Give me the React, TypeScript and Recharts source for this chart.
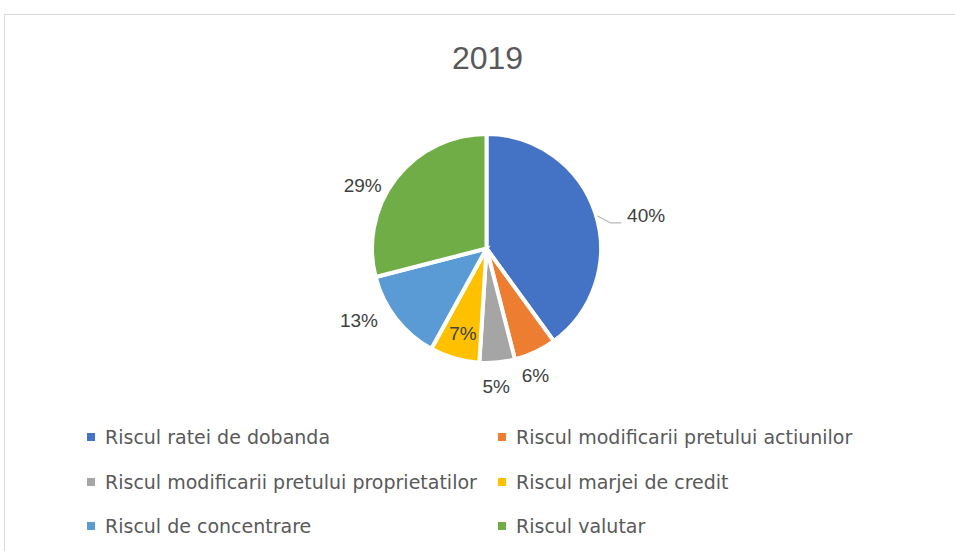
import React from 'react';
import { PieChart, Pie, Cell, Legend } from 'recharts';

const TITLE = '2019';
const CATEGORIES = [
  'Riscul ratei de dobanda',
  'Riscul modificarii pretului actiunilor',
  'Riscul modificarii pretului proprietatilor',
  'Riscul marjei de credit',
  'Riscul de concentrare',
  'Riscul valutar',
];
const VALUES = [40, 6, 5, 7, 13, 29];
const COLORS = ['#4472C4', '#ED7D31', '#A5A5A5', '#FFC000', '#5B9BD5', '#70AD47'];

// label placement style (radius from centre, angle shift in degrees)
const LABEL_RADIUS = [163, 136, 138, 88, 146, 139];
const LABEL_ANGLE_SHIFT = [-6.3, -4.1, -1.4, 0.7, -8.7, 10.8];

const data = CATEGORIES.map((name, i) => ({ name, value: VALUES[i] }));

const RAD = Math.PI / 180;

const renderLabel = (p: any) => {
  const { cx, cy, midAngle, outerRadius, index, percent } = p;
  const a = (midAngle + LABEL_ANGLE_SHIFT[index]) * RAD;
  const r = LABEL_RADIUS[index];
  const x = cx + r * Math.cos(a);
  const y = cy - r * Math.sin(a);
  let line = null;
  if (index === 0) {
    const sa = (midAngle - 1.6) * RAD;
    const sx = cx + (outerRadius + 1) * Math.cos(sa);
    const sy = cy - (outerRadius + 1) * Math.sin(sa);
    const ex = sx + 13;
    const ey = sy + 7;
    line = (
      <polyline
        points={`${sx},${sy} ${ex},${ey} ${ex + 11},${ey}`}
        fill="none"
        stroke="#A6A6A6"
        strokeWidth={1}
      />
    );
  }
  return (
    <g key={`lbl-${index}`}>
      {line}
      <text
        x={x}
        y={y + 7}
        textAnchor="middle"
        fill="#404040"
        fontFamily="'Liberation Sans', Arial, sans-serif"
        fontSize={19}
      >
        {`${Math.round(percent * 100)}%`}
      </text>
    </g>
  );
};

const LEG_MARKER_X = [87, 498];
const LEG_ROW_TOP = [426.4, 470.9, 515.4];

const renderLegend = () => {
  return (
    <div style={{ position: 'relative', width: 0, height: 0 }}>
      {CATEGORIES.map((name, i) => {
        const col = i % 2;
        const row = Math.floor(i / 2);
        return (
          <div
            key={name}
            style={{
              position: 'absolute',
              left: LEG_MARKER_X[col],
              top: LEG_ROW_TOP[row],
              height: 22,
              display: 'flex',
              alignItems: 'center',
              whiteSpace: 'nowrap',
            }}
          >
            <span
              style={{
                display: 'inline-block',
                width: 8,
                height: 8,
                background: COLORS[i],
                marginRight: 10,
              }}
            />
            <span
              style={{
                fontFamily: "'DejaVu Sans', sans-serif",
                fontSize: 19,
                lineHeight: '22px',
                color: '#595959',
              }}
            >
              {name}
            </span>
          </div>
        );
      })}
    </div>
  );
};

export default function App() {
  return (
    <div
      style={{
        position: 'absolute',
        left: 0,
        top: 0,
        width: 955,
        height: 551,
        overflow: 'hidden',
        background: '#fff',
      }}
    >
      <div
        style={{
          position: 'absolute',
          left: 4,
          top: 14,
          width: 1000,
          height: 600,
          border: '1px solid #D9D9D9',
          boxSizing: 'border-box',
        }}
      />
      <div
        style={{
          position: 'absolute',
          left: 0,
          top: 42.2,
          width: 975,
          textAlign: 'center',
          fontFamily: "'Liberation Sans', Arial, sans-serif",
          fontSize: 32,
          lineHeight: '32px',
          color: '#595959',
        }}
      >
        {TITLE}
      </div>
      <div style={{ position: 'absolute', left: 0, top: 0 }}>
        <PieChart width={955} height={551} margin={{ top: 0, right: 0, bottom: 0, left: 0 }}>
          <Pie
            data={data}
            dataKey="value"
            nameKey="name"
            cx={486.5}
            cy={248.5}
            outerRadius={114.5}
            startAngle={90}
            endAngle={-270}
            stroke="#FFFFFF"
            strokeWidth={4}
            label={renderLabel}
            labelLine={false}
            isAnimationActive={false}
          >
            {data.map((d, i) => (
              <Cell key={d.name} fill={COLORS[i]} />
            ))}
          </Pie>
          <Legend
            content={renderLegend}
            wrapperStyle={{ left: 0, top: 0, width: 955, height: 0 }}
          />
        </PieChart>
      </div>
    </div>
  );
}
